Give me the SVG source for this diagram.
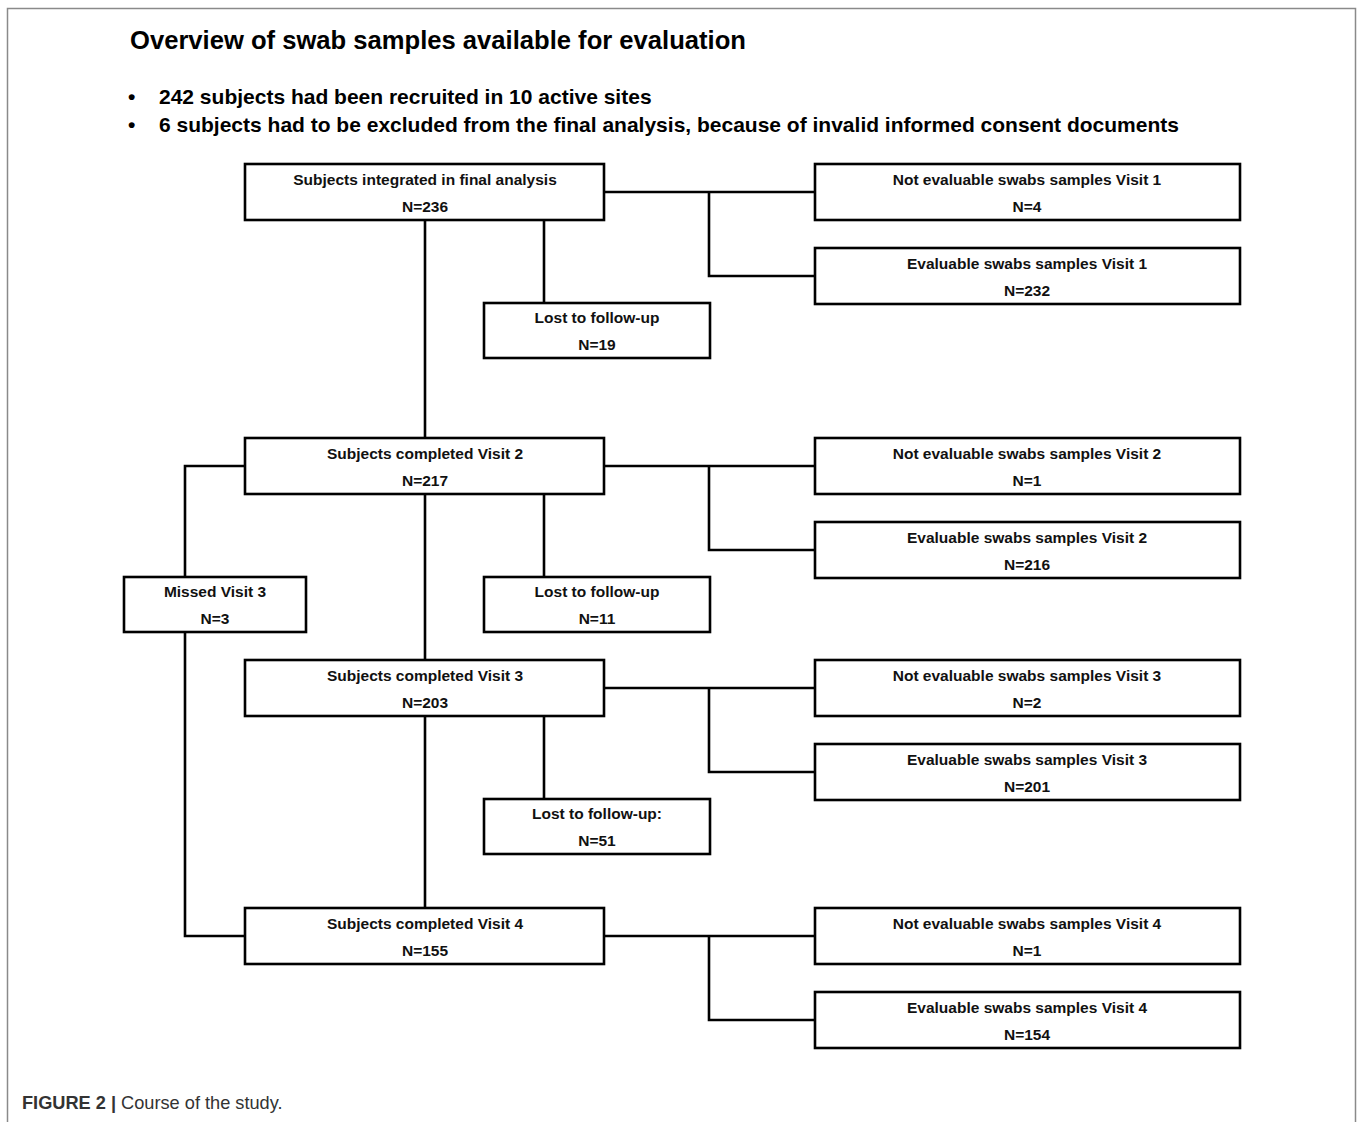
<svg xmlns="http://www.w3.org/2000/svg" width="1357" height="1122" viewBox="0 0 1357 1122">
<style>
.box{fill:#fff;stroke:#000;stroke-width:2.6}
.con{fill:none;stroke:#000;stroke-width:2.6}
.bt{font-family:"Liberation Sans",Arial,sans-serif;font-weight:bold;font-size:15.5px;fill:#111;text-anchor:middle}
.title{font-family:"Liberation Sans",Arial,sans-serif;font-weight:bold;font-size:25.6px;fill:#000}
.bul{font-family:"Liberation Sans",Arial,sans-serif;font-weight:bold;font-size:21px;fill:#000}
.cap{font-family:"Liberation Sans",Arial,sans-serif;font-size:18.2px;fill:#333}
</style>
<rect width="1357" height="1122" fill="#fff"/>
<path d="M7.5,1122 V8.5 H1355.5 V1122" fill="none" stroke="#8a8a8a" stroke-width="1.5"/>
<text class="title" x="130" y="49">Overview of swab samples available for evaluation</text>
<text class="bul" x="128" y="104">•</text>
<text class="bul" x="159" y="104">242 subjects had been recruited in 10 active sites</text>
<text class="bul" x="128" y="132">•</text>
<text class="bul" x="159" y="132">6 subjects had to be excluded from the final analysis, because of invalid informed consent documents</text>

<g id="connectors">
<path class="con" d="M604,192 H815 M709,192 V276 H815"/>
<path class="con" d="M425,220 V438 M544,220 V303"/>
<path class="con" d="M604,466 H815 M709,466 V550 H815"/>
<path class="con" d="M245,466 H185 V577 M185,632 V936 H245"/>
<path class="con" d="M425,494 V660 M544,494 V577"/>
<path class="con" d="M604,688 H815 M709,688 V772 H815"/>
<path class="con" d="M425,716 V908 M544,716 V799"/>
<path class="con" d="M604,936 H815 M709,936 V1020 H815"/>
</g>

<g id="n_final"><rect class="box" x="245" y="164" width="359" height="56"/><text class="bt" x="425" y="185">Subjects integrated in final analysis</text><text class="bt" x="425" y="212">N=236</text></g>
<g id="n_ne1"><rect class="box" x="815" y="164" width="425" height="56"/><text class="bt" x="1027" y="185">Not evaluable swabs samples Visit 1</text><text class="bt" x="1027" y="212">N=4</text></g>
<g id="n_e1"><rect class="box" x="815" y="248" width="425" height="56"/><text class="bt" x="1027" y="269">Evaluable swabs samples Visit 1</text><text class="bt" x="1027" y="296">N=232</text></g>
<g id="n_lost1"><rect class="box" x="484" y="303" width="226" height="55"/><text class="bt" x="597" y="323">Lost to follow-up</text><text class="bt" x="597" y="350">N=19</text></g>

<g id="n_v2"><rect class="box" x="245" y="438" width="359" height="56"/><text class="bt" x="425" y="459">Subjects completed Visit 2</text><text class="bt" x="425" y="486">N=217</text></g>
<g id="n_ne2"><rect class="box" x="815" y="438" width="425" height="56"/><text class="bt" x="1027" y="459">Not evaluable swabs samples Visit 2</text><text class="bt" x="1027" y="486">N=1</text></g>
<g id="n_e2"><rect class="box" x="815" y="522" width="425" height="56"/><text class="bt" x="1027" y="543">Evaluable swabs samples Visit 2</text><text class="bt" x="1027" y="570">N=216</text></g>
<g id="n_missed"><rect class="box" x="124" y="577" width="182" height="55"/><text class="bt" x="215" y="597">Missed Visit 3</text><text class="bt" x="215" y="624">N=3</text></g>
<g id="n_lost2"><rect class="box" x="484" y="577" width="226" height="55"/><text class="bt" x="597" y="597">Lost to follow-up</text><text class="bt" x="597" y="624">N=11</text></g>

<g id="n_v3"><rect class="box" x="245" y="660" width="359" height="56"/><text class="bt" x="425" y="681">Subjects completed Visit 3</text><text class="bt" x="425" y="708">N=203</text></g>
<g id="n_ne3"><rect class="box" x="815" y="660" width="425" height="56"/><text class="bt" x="1027" y="681">Not evaluable swabs samples Visit 3</text><text class="bt" x="1027" y="708">N=2</text></g>
<g id="n_e3"><rect class="box" x="815" y="744" width="425" height="56"/><text class="bt" x="1027" y="765">Evaluable swabs samples Visit 3</text><text class="bt" x="1027" y="792">N=201</text></g>
<g id="n_lost3"><rect class="box" x="484" y="799" width="226" height="55"/><text class="bt" x="597" y="819">Lost to follow-up:</text><text class="bt" x="597" y="846">N=51</text></g>

<g id="n_v4"><rect class="box" x="245" y="908" width="359" height="56"/><text class="bt" x="425" y="929">Subjects completed Visit 4</text><text class="bt" x="425" y="956">N=155</text></g>
<g id="n_ne4"><rect class="box" x="815" y="908" width="425" height="56"/><text class="bt" x="1027" y="929">Not evaluable swabs samples Visit 4</text><text class="bt" x="1027" y="956">N=1</text></g>
<g id="n_e4"><rect class="box" x="815" y="992" width="425" height="56"/><text class="bt" x="1027" y="1013">Evaluable swabs samples Visit 4</text><text class="bt" x="1027" y="1040">N=154</text></g>

<text class="cap" x="22" y="1109"><tspan font-weight="bold">FIGURE 2 |</tspan> Course of the study.</text>
</svg>
